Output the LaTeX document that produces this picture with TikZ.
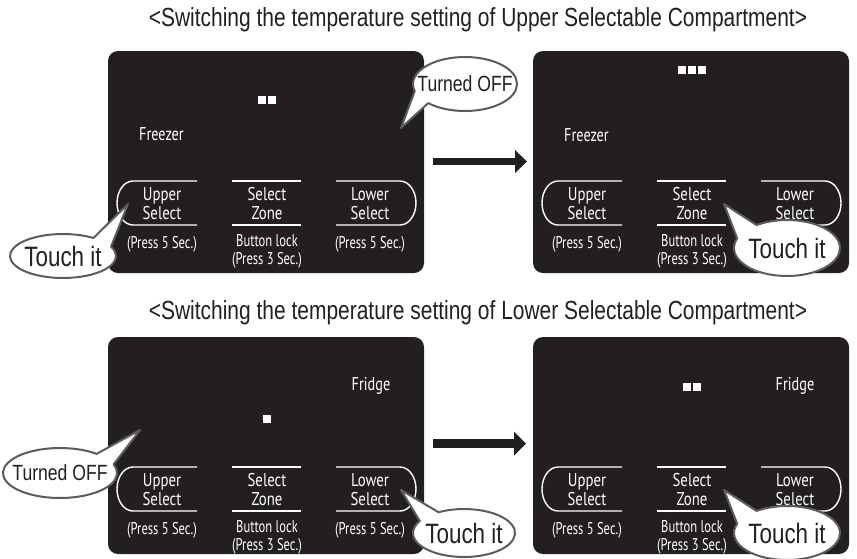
\documentclass[tikz,border=0pt]{standalone}
\usepackage{fontspec}
\setmainfont{Liberation Sans}
\newfontfamily\condf[FakeStretch=0.8]{Liberation Sans}
\newfontfamily\panf[FakeStretch=0.8]{PT Sans}
\newfontfamily\pans[FakeStretch=0.74]{PT Sans}
\newfontfamily\panl[FakeStretch=0.77]{PT Sans}
\usetikzlibrary{calc}
\definecolor{panelbg}{HTML}{231F20}
\definecolor{balloon}{HTML}{5C5C5C}
\tikzset{
  panelbox/.style={fill=panelbg, draw=none, rounded corners=10pt, minimum width=316pt, anchor=north west, inner sep=0pt, outer sep=0pt},
  btn/.style={draw=white, line width=1.4pt},
  ptxt/.style={text=white, font=\panf\fontsize{18.5}{19}\selectfont, align=center, inner sep=0pt},
  psmall/.style={text=white, font=\pans\fontsize{17}{18}\selectfont, align=center, inner sep=0pt},
  seg/.style={fill=white},
  balloonline/.style={draw=balloon, fill=white, line width=2pt, line join=round},
  btxt/.style={font=\condf\fontsize{28}{30}\selectfont, text=panelbg, inner sep=0pt},
  otxt/.style={font=\condf\fontsize{22}{24}\selectfont, text=panelbg, inner sep=0pt},
  titletxt/.style={font=\condf\fontsize{26.2}{28}\selectfont, text=panelbg, inner sep=0pt},
  lbl/.style={text=white, font=\panl\fontsize{18.5}{19}\selectfont, inner sep=0pt},
}
\newcommand\ctrlrow{%
  \draw[btn] (89,130) -- (25,130) arc[start angle=-90, end angle=-270, x radius=16, y radius=22] -- (89,174);
  \draw[btn] (124,130) -- (193,130) (124,174) -- (193,174);
  \draw[btn] (228,130) -- (292,130) arc[start angle=-90, end angle=90, x radius=16, y radius=22] -- (228,174);
  \node[ptxt] (up) at (54,152.5) {Upper\\Select};
  \node[ptxt] (zone) at (159,152.5) {Select\\Zone};
  \node[ptxt] (low) at (262,152.5) {Lower\\Select};
  \node[psmall] (pa) at (54,193) {(Press 5 Sec.)};
  \node[psmall] (lock) at (159,200) {Button lock\\(Press 3 Sec.)};
  \node[psmall] (pb) at (262,193) {(Press 5 Sec.)};
}
\begin{document}
\begin{tikzpicture}[x=1pt, y=-1pt]
\useasboundingbox (0,0) rectangle (857,558);

% titles
\node[titletxt] (title1) at (478,20) {<Switching the temperature setting of Upper Selectable Compartment>};
\node[titletxt] (title2) at (478,313) {<Switching the temperature setting of Lower Selectable Compartment>};

% panels
\node[panelbox, minimum height=222pt] (P1) at (108,51) {};
\node[panelbox, minimum height=222pt] (P2) at (533,51) {};
\node[panelbox, minimum height=217pt] (P3) at (108,337) {};
\node[panelbox, minimum height=217pt] (P4) at (533,337) {};

\begin{scope}[shift={(P1.north west)}, name prefix=A-]
  \ctrlrow
  \node[lbl] (frz) at (53.5,83) {Freezer};
  \fill[seg] (149.75,45.25) rectangle ++(8.5,7.5);
  \fill[seg] (159.75,45.25) rectangle ++(8.5,7.5);
\end{scope}
\begin{scope}[shift={(P2.north west)}, name prefix=B-]
  \ctrlrow
  \node[lbl] (frz) at (53.5,84) {Freezer};
  \fill[seg] (144.75,15.25) rectangle ++(8.5,7.5);
  \fill[seg] (154.75,15.25) rectangle ++(8.5,7.5);
  \fill[seg] (164.75,15.25) rectangle ++(8.5,7.5);
\end{scope}
\begin{scope}[shift={(P3.north west)}, name prefix=C-]
  \ctrlrow
  \node[lbl] (fr) at (263,49) {Fridge};
  \fill[seg] (154.75,78.25) rectangle ++(8.5,7.5);
\end{scope}
\begin{scope}[shift={(P4.north west)}, name prefix=D-]
  \ctrlrow
  \node[lbl] (fr) at (262,49) {Fridge};
  \fill[seg] (149.75,46.25) rectangle ++(8.5,7.5);
  \fill[seg] (159.75,46.25) rectangle ++(8.5,7.5);
\end{scope}

% arrows between panels
\coordinate (a1s) at (433,161.5);
\coordinate (a1m) at (516,161.5);
\coordinate (a1e) at (527,161.5);
\draw[panelbg, line width=7.5pt] (a1s) -- (a1m);
\fill[panelbg] (a1e) -- ++(-12,-11.5) -- ++(0,23) -- cycle;
\coordinate (a2s) at (433,443.5);
\coordinate (a2m) at (515,443.5);
\coordinate (a2e) at (526,443.5);
\draw[panelbg, line width=8.5pt] (a2s) -- (a2m);
\fill[panelbg] (a2e) -- ++(-12,-12) -- ++(0,24) -- cycle;

% callout A: Touch it (top-left)
\coordinate (cA) at (63,256);
\coordinate (tipA) at (128,204);
\draw[balloonline] (tipA) -- ($(cA)+(-25:53 and 22)$) arc[start angle=-25, end angle=305, x radius=53, y radius=22] -- cycle;
\node[btxt] (tA) at (cA) {Touch it};

% callout B: Turned OFF (top)
\coordinate (cB) at (465,84);
\coordinate (tipB) at (401,128);
\draw[balloonline] (tipB) -- ($(cB)+(135:52 and 27)$) arc[start angle=135, end angle=-195, x radius=52, y radius=27] -- cycle;
\node[otxt] (tB) at (cB) {Turned OFF};

% callout E: Touch it (top-right)
\coordinate (cE) at (787,248);
\coordinate (tipE) at (724,204);
\draw[balloonline] (tipE) -- ($(cE)+(-125:53 and 28)$) arc[start angle=-125, end angle=200, x radius=53, y radius=28] -- cycle;
\node[btxt] (tE) at (cE) {Touch it};

% callout C: Turned OFF (bottom-left)
\coordinate (cC) at (60,473);
\coordinate (tipC) at (140,430);
\draw[balloonline] (tipC) -- ($(cC)+(-20:57 and 25)$) arc[start angle=-20, end angle=310, x radius=57, y radius=25] -- cycle;
\node[otxt] (tC) at (cC) {Turned OFF};

% callout D: Touch it (bottom middle)
\coordinate (cD) at (464,533);
\coordinate (tipD) at (401,490);
\draw[balloonline] (tipD) -- ($(cD)+(-120:51 and 24)$) arc[start angle=-120, end angle=210, x radius=51, y radius=24] -- cycle;
\node[btxt] (tD) at (cD) {Touch it};

% callout F: Touch it (bottom-right)
\coordinate (cF) at (787,533);
\coordinate (tipF) at (724,490);
\draw[balloonline] (tipF) -- ($(cF)+(-125:53 and 27)$) arc[start angle=-125, end angle=200, x radius=53, y radius=27] -- cycle;
\node[btxt] (tF) at (cF) {Touch it};
\end{tikzpicture}
\end{document}
